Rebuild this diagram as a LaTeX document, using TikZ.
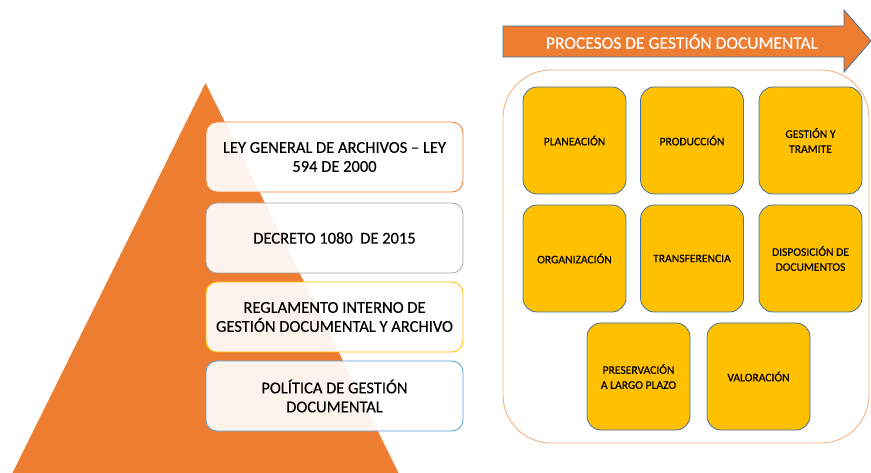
\documentclass[tikz,border=0pt]{standalone}
\usepackage{fontspec}
\setmainfont{Carlito}[FakeBold=0.3]
\definecolor{orng}{HTML}{ED7D31}
\definecolor{gold}{HTML}{FFC000}
\definecolor{slate}{HTML}{41719C}
\definecolor{grayb}{HTML}{A5A5A5}
\definecolor{blueb}{HTML}{5B9BD5}
\definecolor{peach}{HTML}{F4B183}
\begin{document}
\begin{tikzpicture}[x=1pt,y=-1pt,
  lawbox/.style={rectangle, rounded corners=11pt, minimum width=257pt, minimum height=70pt,
    fill=white, fill opacity=0.91, text opacity=1, line width=0.8pt, align=center,
    font=\fontsize{16.5}{19}\selectfont, text=black, inner sep=2pt},
  procbox/.style={rectangle, rounded corners=14pt, minimum width=103pt, minimum height=107pt,
    fill=gold, draw=slate, line width=0.8pt, align=center,
    font=\fontsize{11.6}{15}\selectfont, text=black, inner sep=2pt}]
\useasboundingbox (0,0) rectangle (871,473);
% pyramid
\fill[orng, draw=white, line width=0.6pt] (205.5,82) -- (400,475) -- (11,475) -- cycle;
% law boxes
\node[lawbox, draw=orng] (ley) at (334.5,157) {LEY GENERAL DE ARCHIVOS – LEY\\594 DE 2000};
\node[lawbox, draw=grayb] (dec) at (334.5,238) {DECRETO 1080\ \ DE 2015};
\node[lawbox, draw=gold] (reg) at (334.5,317) {REGLAMENTO INTERNO DE\\GESTIÓN DOCUMENTAL Y ARCHIVO};
\node[lawbox, draw=blueb] (pol) at (334.5,396) {POLÍTICA DE GESTIÓN\\DOCUMENTAL};
% arrow
\draw[fill=orng, draw=slate, line width=0.8pt] (503,26) -- (844,26) -- (844,10) -- (871,41) -- (844,72) -- (844,57) -- (503,57) -- cycle;
\node[text=white, font=\fontsize{17.5}{20}\selectfont] (arrowlbl) at (682,41.5) {PROCESOS DE GESTIÓN DOCUMENTAL};
% container
\draw[peach, line width=0.9pt, rounded corners=48pt] (503,70) rectangle (869,443);
% process boxes
\node[procbox] (plan) at (574.5,140.5) {PLANEACIÓN};
\node[procbox] (prod) at (692,140.5) {PRODUCCIÓN};
\node[procbox] (gest) at (810.5,140.5) {GESTIÓN Y\\TRAMITE};
\node[procbox] (org) at (574.5,258.5) {ORGANIZACIÓN};
\node[procbox] (trans) at (692,258.5) {TRANSFERENCIA};
\node[procbox] (disp) at (810.5,258.5) {DISPOSICIÓN DE\\DOCUMENTOS};
\node[procbox] (pres) at (638.5,376.5) {PRESERVACIÓN\\A LARGO PLAZO};
\node[procbox] (val) at (758.5,376.5) {VALORACIÓN};
\end{tikzpicture}
\end{document}
